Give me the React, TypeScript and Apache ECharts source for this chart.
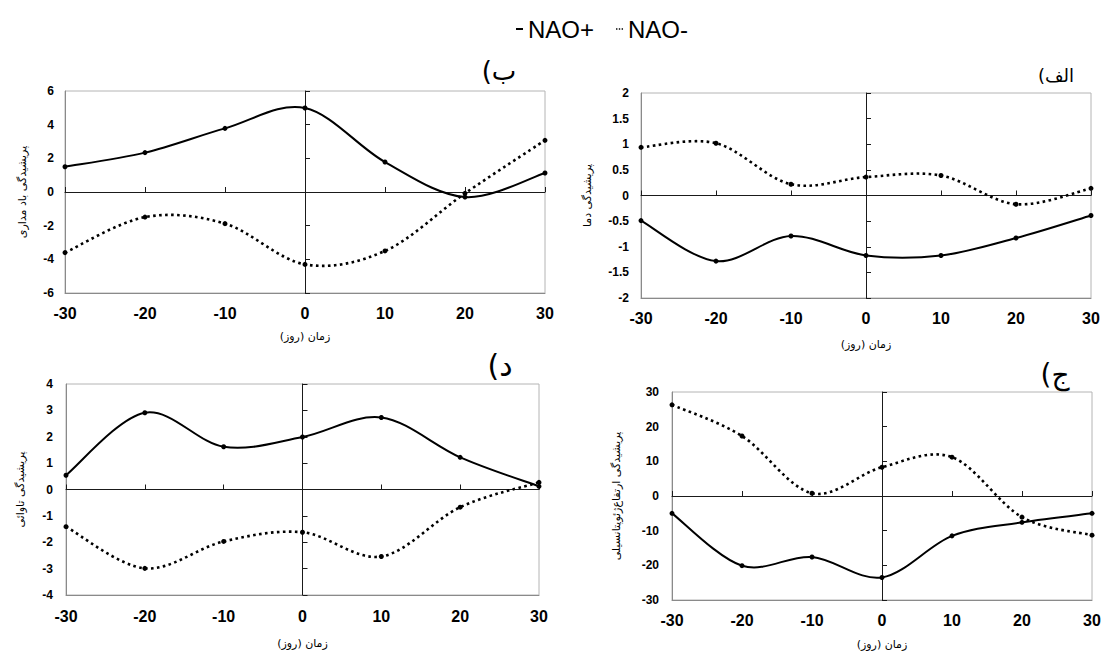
import React, { useEffect, useRef } from "react";
import * as echarts from "echarts";

// ---- data ----
const days = [-30, -20, -10, 0, 10, 20, 30];

// panel ب : zonal wind perturbation
const windPos = [1.5, 2.34, 3.78, 4.99, 1.78, -0.3, 1.13];
const windNeg = [-3.6, -1.49, -1.88, -4.3, -3.5, -0.08, 3.07];

// panel الف : temperature perturbation
const tempPos = [-0.49, -1.28, -0.79, -1.17, -1.17, -0.83, -0.39];
const tempNeg = [0.94, 1.02, 0.22, 0.36, 0.39, -0.17, 0.14];

// panel د : vorticity perturbation
const vortPos = [0.54, 2.91, 1.62, 1.99, 2.73, 1.22, 0.12];
const vortNeg = [-1.41, -2.99, -1.97, -1.62, -2.54, -0.67, 0.27];

// panel ج : geopotential height perturbation
const geoPos = [-5.0, -20.1, -17.6, -23.5, -11.5, -7.6, -5.0];
const geoNeg = [26.3, 17.3, 0.8, 8.3, 11.2, -6.1, -11.3];

const seriesNames = ["NAO+", "NAO-"];
const panelTitles = ["(ب", "(الف", "(د", "(ج"];
const yAxisNames = [
  "پریشیدگی باد مداری",
  "پریشیدگی دما",
  "پریشیدگی تاوائی",
  "پریشیدگی ارتفاع‌ژئوپتانسیلی",
];
const xAxisName = "زمان (روز)\u200F";
const yMins = [-6, -2, -4, -30];
const yMaxs = [6, 2, 4, 30];
const yIntervals = [2, 0.5, 1, 10];
const panelPos = [windPos, tempPos, vortPos, geoPos];
const panelNeg = [windNeg, tempNeg, vortNeg, geoNeg];

// ---- layout ----
const layout = [
  { left: 65, top: 91, width: 480, height: 202, xm: 12, xg: 38, ym: 11, yg: 37, tx: 499, ty: 71, tf: 26 },
  { left: 641, top: 93, width: 450, height: 205, xm: 12, xg: 41, ym: 12, yg: 48, tx: 1056, ty: 75, tf: 18 },
  { left: 66, top: 384, width: 473, height: 211, xm: 13, xg: 43, ym: 13, yg: 40, tx: 500, ty: 365, tf: 30 },
  { left: 672, top: 392, width: 420, height: 208, xm: 12, xg: 39, ym: 13, yg: 50, tx: 1055, ty: 374, tf: 28 },
];

const solidStyle = { width: 2, dash: null as any };
const dottedStyle = { width: 2.6, dash: [2.6, 3.4] };

function curveRenderer(vals: number[], style: { width: number; dash: any }) {
  return (params: any, api: any) => {
    const pts = days.map((d, i) => api.coord([d, vals[i]]));
    const n = pts.length;
    let d = `M${pts[0][0]},${pts[0][1]}`;
    for (let i = 0; i < n - 1; i++) {
      const p0 = pts[Math.max(i - 1, 0)];
      const p1 = pts[i];
      const p2 = pts[i + 1];
      const p3 = pts[Math.min(i + 2, n - 1)];
      const c1x = p1[0] + (p2[0] - p0[0]) / 6;
      const c1y = p1[1] + (p2[1] - p0[1]) / 6;
      const c2x = p2[0] - (p3[0] - p1[0]) / 6;
      const c2y = p2[1] - (p3[1] - p1[1]) / 6;
      d += ` C${c1x},${c1y} ${c2x},${c2y} ${p2[0]},${p2[1]}`;
    }
    return {
      type: "path",
      shape: { pathData: d },
      style: {
        fill: "none",
        stroke: "#000",
        lineWidth: style.width,
        lineDash: style.dash,
      },
    };
  };
}

export default function App() {
  const ref = useRef<HTMLDivElement>(null);
  useEffect(() => {
    if (!ref.current) return;
    const chart = echarts.init(ref.current, undefined, { renderer: "svg" });
    const grids: any[] = [];
    const xAxes: any[] = [];
    const yAxes: any[] = [];
    const series: any[] = [];
    const graphics: any[] = [];
    layout.forEach((L, g) => {
      grids.push({
        left: L.left,
        top: L.top,
        width: L.width,
        height: L.height,
        show: true,
        borderColor: "#b4b4b4",
        borderWidth: 1,
        containLabel: false,
        outerBoundsMode: "none",
      });
      xAxes.push({
        gridIndex: g,
        type: "value",
        min: -30,
        max: 30,
        interval: 10,
        position: "bottom",
        axisLine: { show: true, onZero: false, lineStyle: { color: "#8a8a8a", width: 1 } },
        axisTick: { show: false },
        splitLine: { show: false },
        axisLabel: { margin: L.xm, fontSize: 16, fontWeight: "bold", color: "#000", fontFamily: "Liberation Sans" },
        name: xAxisName,
        nameLocation: "middle",
        nameGap: L.xg,
        nameTextStyle: { fontSize: 11, fontFamily: "DejaVu Sans", color: "#000" },
      });
      xAxes.push({
        gridIndex: g,
        type: "value",
        min: -30,
        max: 30,
        interval: 10,
        position: "bottom",
        axisLine: { show: true, onZero: true, onZeroAxisIndex: 2 * g, lineStyle: { color: "#1a1a1a", width: 1 } },
        axisTick: { show: true, inside: true, length: 5, lineStyle: { color: "#1a1a1a" } },
        axisLabel: { show: false },
        splitLine: { show: false },
      });
      yAxes.push({
        gridIndex: g,
        type: "value",
        min: yMins[g],
        max: yMaxs[g],
        interval: yIntervals[g],
        position: "left",
        axisLine: { show: true, onZero: false, lineStyle: { color: "#8a8a8a", width: 1 } },
        axisTick: { show: false },
        splitLine: { show: false },
        axisLabel: { margin: L.ym, fontSize: 12, fontWeight: "bold", color: "#000", fontFamily: "Liberation Sans" },
        name: yAxisNames[g],
        nameLocation: "middle",
        nameGap: L.yg,
        nameRotate: 90,
        nameTextStyle: { fontSize: 11, fontFamily: "DejaVu Sans", color: "#000" },
      });
      yAxes.push({
        gridIndex: g,
        type: "value",
        min: yMins[g],
        max: yMaxs[g],
        interval: yIntervals[g],
        position: "left",
        axisLine: { show: true, onZero: true, onZeroAxisIndex: 2 * g, lineStyle: { color: "#1a1a1a", width: 1 } },
        axisTick: { show: true, inside: true, length: 5, lineStyle: { color: "#1a1a1a" } },
        axisLabel: { show: false },
        splitLine: { show: false },
      });
      [panelPos[g], panelNeg[g]].forEach((vals, k) => {
        series.push({
          type: "line",
          name: seriesNames[k],
          xAxisIndex: 2 * g,
          yAxisIndex: 2 * g,
          data: days.map((d, i) => [d, vals[i]]),
          symbol: "circle",
          symbolSize: 5,
          itemStyle: { color: "#000" },
          lineStyle: { color: "#000", width: 0, opacity: 0 },
          z: 6,
        });
        series.push({
          type: "custom",
          name: `curve-${g}-${k}`,
          coordinateSystem: "cartesian2d",
          xAxisIndex: 2 * g,
          yAxisIndex: 2 * g,
          data: [[0, 0]],
          silent: true,
          renderItem: curveRenderer(vals, k === 0 ? solidStyle : dottedStyle),
          z: 5,
        });
      });
      graphics.push({
        type: "text",
        x: L.tx,
        y: L.ty,
        style: {
          text: panelTitles[g],
          fill: "#000",
          font: `${L.tf}px "DejaVu Sans"`,
          align: "center",
          verticalAlign: "middle",
        },
      });
    });
    chart.setOption({
      animation: false,
      backgroundColor: "#fff",
      legend: {
        top: 12,
        left: 511,
        itemWidth: 7,
        itemHeight: 2,
        itemGap: 22,
        textStyle: { fontSize: 24, fontFamily: "Liberation Sans", color: "#000" },
        data: [
          { name: seriesNames[0], icon: "rect", itemStyle: { color: "#000", opacity: 1 } },
          {
            name: seriesNames[1],
            icon: "path://M0 0h2v2H0zM4 0h2v2H4zM8 0h2v2H8z",
            itemStyle: { color: "#000", opacity: 1 },
          },
        ],
      },
      grid: grids,
      xAxis: xAxes,
      yAxis: yAxes,
      series,
      graphic: graphics,
    });
    return () => chart.dispose();
  }, []);
  return (
    <div
      ref={ref}
      style={{ position: "absolute", left: 0, top: 0, width: 1103, height: 653 }}
    />
  );
}
